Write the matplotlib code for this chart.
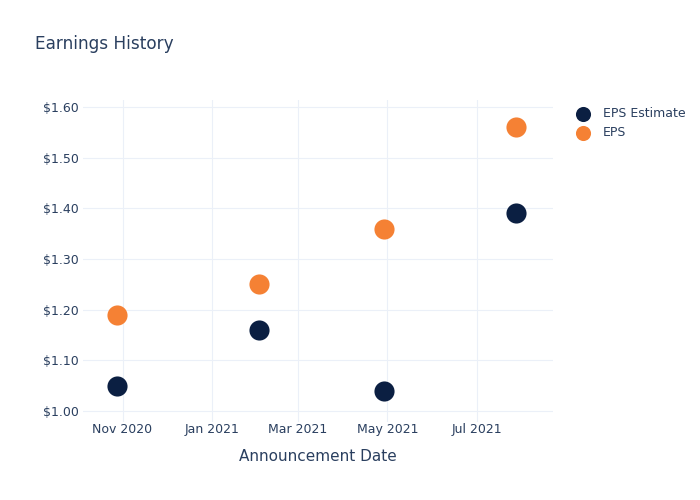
import numpy as np
import pandas as pd
import matplotlib.pyplot as plt
import matplotlib.dates as mdates
from matplotlib.ticker import FuncFormatter

dates = pd.to_datetime(['2020-10-28', '2021-02-02', '2021-04-29', '2021-07-28'])
eps_estimate = [1.05, 1.16, 1.04, 1.39]
eps_actual = [1.19, 1.25, 1.36, 1.56]

text_col = '#2a3f5f'
grid_col = '#ebf0f8'
navy = '#0b1f42'
orange = '#f58134'

fig = plt.figure(figsize=(7, 5), dpi=100)
ax = fig.add_axes([0.1186, 0.156, 0.671, 0.644])

ax.scatter(dates, eps_estimate, s=210, color=navy, label='EPS Estimate', zorder=3, linewidths=0)
ax.scatter(dates, eps_actual, s=210, color=orange, label='EPS', zorder=3, linewidths=0)

ax.set_xlim(pd.Timestamp('2020-10-05'), pd.Timestamp('2021-08-22'))
ax.set_ylim(0.978, 1.614)
ax.set_yticks(np.arange(1.0, 1.61, 0.1))
ax.yaxis.set_major_formatter(FuncFormatter(lambda v, p: f'${v:.2f}'))
ax.xaxis.set_major_locator(mdates.MonthLocator(bymonth=[1, 3, 5, 7, 11]))
ax.xaxis.set_major_formatter(mdates.DateFormatter('%b %Y'))

for s in ax.spines.values():
    s.set_visible(False)
ax.grid(True, color=grid_col, linewidth=0.8)
ax.set_axisbelow(True)
ax.tick_params(length=0, labelsize=9, colors=text_col)
ax.tick_params(axis='x', pad=1)
ax.tick_params(axis='y', pad=3)

ax.set_xlabel('Announcement Date', fontsize=11, color=text_col, labelpad=9)
fig.text(0.05, 0.912, 'Earnings History', fontsize=12.2, color=text_col, va='center')

leg = ax.legend(loc='upper left', bbox_to_anchor=(1.013, 1.012), frameon=False,
                fontsize=9, labelcolor=text_col, handletextpad=0.6,
                labelspacing=0.45, markerscale=0.75)

fig.savefig('out.png', dpi=100)
